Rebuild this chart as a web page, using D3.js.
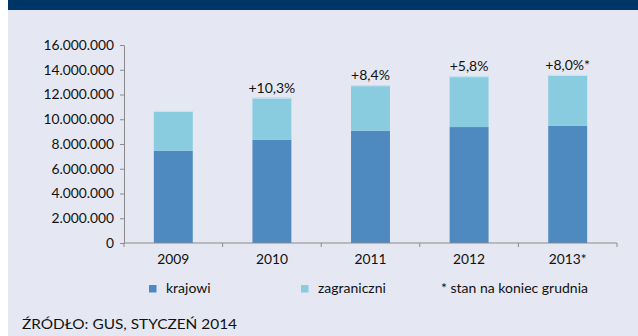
<!DOCTYPE html>
<html>
<head>
<meta charset="utf-8">
<script src="https://cdn.jsdelivr.net/npm/d3@7"></script>
<style>
  html, body { margin: 0; padding: 0; background: #ffffff; overflow: hidden; }
  svg { display: block; }
  text { font-family: Lato, "Open Sans", sans-serif; fill: #111; }
</style>
</head>
<body>
<svg id="chart" width="638" height="336"></svg>
<script>
// Tourists accommodated, by origin (millions)
const years = ["2009", "2010", "2011", "2012", "2013*"];
const domestic = [7.45, 8.35, 9.07, 9.37, 9.48];      // krajowi
const foreign = [3.22, 3.39, 3.67, 4.10, 4.10];       // zagraniczni
const growthLabels = ["", "+10,3%", "+8,4%", "+5,8%", "+8,0%*"];
const yTicks = [0, 2, 4, 6, 8, 10, 12, 14, 16];
const seriesNames = ["krajowi", "zagraniczni"];
const seriesColors = ["#4e8abf", "#89cbdf"];
const footnote = "* stan na koniec grudnia";
const source = "ŹRÓDŁO: GUS, STYCZEŃ 2014";

const svg = d3.select("#chart");
const W = 638, H = 336;

// panel background and top band
svg.append("rect").attr("x", 8).attr("y", 0).attr("width", W - 8).attr("height", H).attr("fill", "#e5e8f2");
svg.append("rect").attr("x", 8).attr("y", 0).attr("width", W - 8).attr("height", 10).attr("fill", "#003568");

const plot = { left: 124, right: 617, top: 45, bottom: 243 };

const x = d3.scaleBand().domain(years).range([plot.left, plot.right]).padding(0);
const y = d3.scaleLinear().domain([0, 16]).range([plot.bottom, plot.top]);

const fmt = v => v === 0 ? "0" : d3.format(",")(v * 1e6).replace(/,/g, ".");

// y axis
const yAxis = d3.axisLeft(y).tickValues(yTicks).tickSize(4).tickSizeOuter(0).tickPadding(6).tickFormat(fmt);
const gy = svg.append("g").attr("transform", `translate(${plot.left},0)`).call(yAxis);
gy.select(".domain").attr("stroke", "#8a8a8a");
gy.selectAll(".tick line").attr("stroke", "#8a8a8a");
gy.selectAll(".tick text").attr("font-size", 13.8).attr("font-family", "Lato, sans-serif").attr("fill", "#111");

// stacked bars
const barW = x.bandwidth() * 0.395;
const stack = years.map((yr, i) => ({ yr, i, parts: [[0, domestic[i]], [domestic[i], domestic[i] + foreign[i]]] }));

const gBars = svg.append("g");
stack.forEach(d => {
  const cx = x(d.yr) + x.bandwidth() / 2;
  d.parts.forEach((p, k) => {
    gBars.append("rect")
      .attr("x", cx - barW / 2)
      .attr("y", y(p[1]))
      .attr("width", barW)
      .attr("height", y(p[0]) - y(p[1]))
      .attr("fill", seriesColors[k]);
  });
  // light edge on the top of the column
  gBars.append("rect")
    .attr("x", cx - barW / 2)
    .attr("y", y(d.parts[1][1]))
    .attr("width", barW)
    .attr("height", 1)
    .attr("fill", "#c9e6f0");
  if (growthLabels[d.i]) {
    svg.append("text")
      .attr("x", cx)
      .attr("y", y(d.parts[1][1]) - 5)
      .attr("text-anchor", "middle")
      .attr("font-size", 14)
      .text(growthLabels[d.i]);
  }
});

// x axis with ticks between categories
const gx = svg.append("g").attr("transform", `translate(0,${plot.bottom})`);
gx.append("line").attr("x1", plot.left).attr("x2", plot.right).attr("stroke", "#8a8a8a");
const boundaries = years.map(yr => x(yr)).concat([plot.right]);
gx.selectAll("line.tk").data(boundaries).join("line")
  .attr("class", "tk")
  .attr("x1", d => d).attr("x2", d => d)
  .attr("y1", 0).attr("y2", 4)
  .attr("stroke", "#8a8a8a");
gx.selectAll("text").data(years).join("text")
  .attr("x", d => x(d) + x.bandwidth() / 2)
  .attr("y", 21)
  .attr("text-anchor", "middle")
  .attr("font-size", 13.8)
  .text(d => d);

// legend
const legendX = [149, 301];
seriesNames.forEach((name, k) => {
  svg.append("rect").attr("x", legendX[k]).attr("y", 285).attr("width", 7.5).attr("height", 7.5).attr("fill", seriesColors[k]);
  svg.append("text").attr("x", legendX[k] + 17).attr("y", 293).attr("font-size", 14).text(name);
});
svg.append("text").attr("x", 441).attr("y", 293).attr("font-size", 14).text(footnote);

// source line
svg.append("text").attr("x", 22).attr("y", 329).attr("font-size", 13)
  .attr("textLength", 215).attr("lengthAdjust", "spacingAndGlyphs")
  .text(source);
</script>
</body>
</html>
